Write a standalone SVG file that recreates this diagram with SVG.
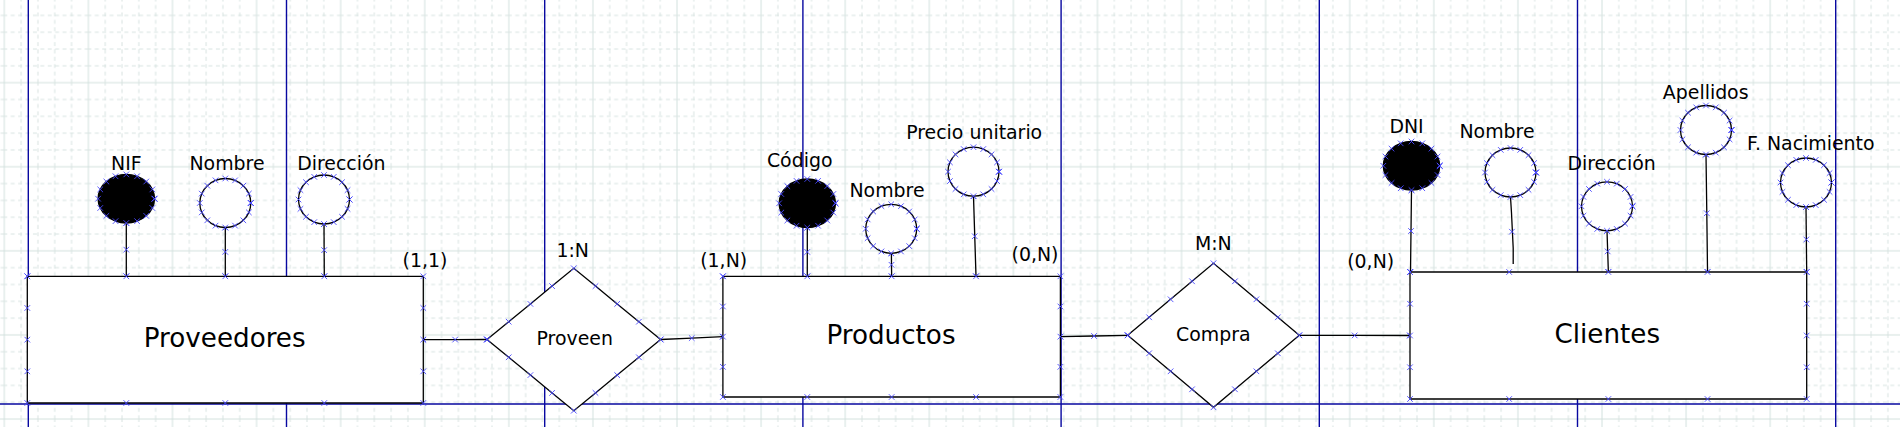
<svg xmlns="http://www.w3.org/2000/svg" xmlns:xlink="http://www.w3.org/1999/xlink" width="1900" height="427" viewBox="0 0 1900 427">
<style>
.t{font-family:"DejaVu Sans","Liberation Sans",sans-serif;font-size:18.9px;text-anchor:middle;fill:#000}
.big{font-size:26.2px}
.sh{fill:#fff;stroke:#000;stroke-width:1.3;marker-start:url(#x);marker-mid:url(#x);marker-end:url(#x)}
.ln{fill:none;stroke:#000;stroke-width:1.3;marker-start:url(#x);marker-mid:url(#x);marker-end:url(#x)}
.pb{stroke:#0808a0;stroke-width:1.4;fill:none}
</style>
<defs>
<pattern id="grid" patternUnits="userSpaceOnUse" x="3.3" y="-2.4" width="84.09" height="84.09">
<path d="M1,0V84.09M0,1H84.09" stroke="#d3e1de" stroke-width="1" fill="none"/>
<path d="M17.82,0V84.09M34.64,0V84.09M51.45,0V84.09M68.27,0V84.09M0,17.82H84.09M0,34.64H84.09M0,51.45H84.09M0,68.27H84.09" stroke="#d8e3e1" stroke-width="1" stroke-dasharray="4 3.4" fill="none"/>
</pattern>
<marker id="x" markerUnits="userSpaceOnUse" markerWidth="8" markerHeight="8" refX="4" refY="4" orient="0" viewBox="0 0 8 8" overflow="visible">
<path d="M1.2,1.2L6.8,6.8M1.2,6.8L6.8,1.2" stroke="#4a4aff" stroke-width="0.9" fill="none"/>
</marker>
<path id="xc" d="M-2.8,-2.8L2.8,2.8M-2.8,2.8L2.8,-2.8" stroke="#4a4aff" stroke-width="0.9" fill="none"/>
<path id="ea" fill="#fff" stroke="#000" stroke-width="1.3" marker-start="url(#x)" marker-mid="url(#x)" marker-end="url(#x)" d="M25.5,0A25.5,24.5 0 0 1 23.56,9.38A25.5,24.5 0 0 1 18.03,17.32A25.5,24.5 0 0 1 9.76,22.64A25.5,24.5 0 0 1 0,24.5A25.5,24.5 0 0 1 -9.76,22.64A25.5,24.5 0 0 1 -18.03,17.32A25.5,24.5 0 0 1 -23.56,9.38A25.5,24.5 0 0 1 -25.5,0A25.5,24.5 0 0 1 -23.56,-9.38A25.5,24.5 0 0 1 -18.03,-17.32A25.5,24.5 0 0 1 -9.76,-22.64A25.5,24.5 0 0 1 0,-24.5A25.5,24.5 0 0 1 9.76,-22.64A25.5,24.5 0 0 1 18.03,-17.32A25.5,24.5 0 0 1 23.56,-9.38A25.5,24.5 0 0 1 25.5,0Z"/>
<path id="ek" fill="#000" stroke="#000" stroke-width="1.3" marker-start="url(#x)" marker-mid="url(#x)" marker-end="url(#x)" d="M28.2,0A28.2,24.3 0 0 1 26.05,9.3A28.2,24.3 0 0 1 19.94,17.18A28.2,24.3 0 0 1 10.79,22.45A28.2,24.3 0 0 1 0,24.3A28.2,24.3 0 0 1 -10.79,22.45A28.2,24.3 0 0 1 -19.94,17.18A28.2,24.3 0 0 1 -26.05,9.3A28.2,24.3 0 0 1 -28.2,0A28.2,24.3 0 0 1 -26.05,-9.3A28.2,24.3 0 0 1 -19.94,-17.18A28.2,24.3 0 0 1 -10.79,-22.45A28.2,24.3 0 0 1 0,-24.3A28.2,24.3 0 0 1 10.79,-22.45A28.2,24.3 0 0 1 19.94,-17.18A28.2,24.3 0 0 1 26.05,-9.3A28.2,24.3 0 0 1 28.2,0Z"/>
</defs>

<rect width="1900" height="427" fill="#fff"/>
<rect width="1900" height="427" fill="url(#grid)"/>

<g id="page-breaks" class="pb">
<path d="M28.3,0V427M286.5,0V427M544.7,0V427M802.9,0V427M1061.1,0V427M1319.3,0V427M1577.5,0V427M1835.7,0V427M0,404H1900"/>
</g>

<g id="connectors">
<path class="ln" d="M126.3,223L126.3,249.65L126.3,276.3"/>
<path class="ln" d="M225.3,227.5L225.3,251.9L225.3,276.3"/>
<path class="ln" d="M324,224L324.15,250.15L324.3,276.3"/>
<path class="ln" d="M807.3,227.6L807.3,251.95L807.28,276.3"/>
<path class="ln" d="M891.4,253.3L891.5,264.8L891.65,276.3"/>
<path class="ln" d="M973.5,196.2L974.75,236.25L976,276.3"/>
<path class="ln" d="M1411.5,190.1L1411,231L1410.5,272"/>
<path fill="none" stroke="#000" stroke-width="1.3" d="M1510.5,197L1511.5,213L1513.2,248L1513.2,264"/>
<use xlink:href="#xc" href="#xc" x="1511.9" y="231.7"/>
<path class="ln" d="M1607,230.8L1607.7,251.4L1608.35,272"/>
<path class="ln" d="M1706,154.5L1706.8,213.25L1707.53,272"/>
<path class="ln" d="M1806,207L1806.35,239.5L1806.7,272"/>
<path class="ln" d="M423.3,339.65L455.15,339.6L487,339.5"/>
<path class="ln" d="M660.6,339.5L691.75,338.1L722.9,336.65"/>
<path class="ln" d="M1060.4,336.65L1094.05,336L1127.7,335.3"/>
<path class="ln" d="M1299.3,335.3L1354.65,335.4L1410,335.5"/>
</g>

<g id="proveedores">
<path class="sh" d="M27.3,276.3H126.3H225.3H324.3H423.3V307.98V339.65V371.33V403H324.3H225.3H126.3H27.3V371.33V339.65V307.98Z"/>
<text class="t big" x="224.7" y="347">Proveedores</text>
</g>
<g id="prov-nif"><use xlink:href="#ek" href="#ek" x="126.3" y="198.7"/><text class="t" x="126.3" y="170">NIF</text></g>
<g id="prov-nombre"><use xlink:href="#ea" href="#ea" x="225.3" y="203"/><text class="t" x="227" y="170">Nombre</text></g>
<g id="prov-direccion"><use xlink:href="#ea" href="#ea" x="324" y="199.5"/><text class="t" x="341.3" y="170">Dirección</text></g>

<g id="proveen">
<path class="sh" d="M487,339.5L508.7,321.7L530.4,303.9L552.1,286.1L573.8,268.3L595.5,286.1L617.2,303.9L638.9,321.7L660.6,339.5L638.9,357.3L617.2,375.1L595.5,392.9L573.8,410.7L552.1,392.9L530.4,375.1L508.7,357.3Z"/>
<text class="t" x="574.7" y="344.5">Proveen</text>
</g>

<g id="productos">
<path class="sh" d="M722.9,276.3H807.28H891.65H976.03H1060.4V306.48V336.65V366.83V397H976.03H891.65H807.28H722.9V366.83V336.65V306.48Z"/>
<text class="t big" x="891" y="344.3">Productos</text>
</g>
<g id="prod-codigo"><use xlink:href="#ek" href="#ek" x="807.3" y="203.3"/><text class="t" x="799.7" y="166.7">Código</text></g>
<g id="prod-nombre"><use xlink:href="#ea" href="#ea" x="891.2" y="228.8"/><text class="t" x="887" y="196.7">Nombre</text></g>
<g id="prod-precio"><use xlink:href="#ea" href="#ea" x="973.5" y="171.7"/><text class="t" x="974.2" y="139.3">Precio unitario</text></g>

<g id="compra">
<path class="sh" d="M1127.7,335.3L1149.15,317.3L1170.6,299.3L1192.05,281.3L1213.5,263.3L1234.95,281.3L1256.4,299.3L1277.85,317.3L1299.3,335.3L1277.85,353.3L1256.4,371.3L1234.95,389.3L1213.5,407.3L1192.05,389.3L1170.6,371.3L1149.15,353.3Z"/>
<text class="t" x="1213.3" y="340.9">Compra</text>
</g>

<g id="clientes">
<path class="sh" d="M1410,272H1509.18H1608.35H1707.53H1806.7V303.75V335.5V367.25V399H1707.53H1608.35H1509.18H1410V367.25V335.5V303.75Z"/>
<text class="t big" x="1607.3" y="343">Clientes</text>
</g>
<g id="cli-dni"><use xlink:href="#ek" href="#ek" x="1411.5" y="165.8"/><text class="t" x="1406.5" y="133.3">DNI</text></g>
<g id="cli-nombre"><use xlink:href="#ea" href="#ea" x="1510.5" y="172.5"/><text class="t" x="1497" y="137.7">Nombre</text></g>
<g id="cli-direccion"><use xlink:href="#ea" href="#ea" x="1607" y="206.3"/><text class="t" x="1611.6" y="170">Dirección</text></g>
<g id="cli-apellidos"><use xlink:href="#ea" href="#ea" x="1706" y="130"/><text class="t" x="1705.7" y="99">Apellidos</text></g>
<g id="cli-fnac"><use xlink:href="#ea" href="#ea" x="1806" y="182.5"/><text class="t" x="1810.8" y="150">F. Nacimiento</text></g>

<g id="cardinalities">
<text class="t" x="425" y="266.7">(1,1)</text>
<text class="t" x="572.7" y="257.3">1:N</text>
<text class="t" x="723.7" y="266.7">(1,N)</text>
<text class="t" x="1035" y="261">(0,N)</text>
<text class="t" x="1213.3" y="250">M:N</text>
<text class="t" x="1370.7" y="268.3">(0,N)</text>
</g>
</svg>
